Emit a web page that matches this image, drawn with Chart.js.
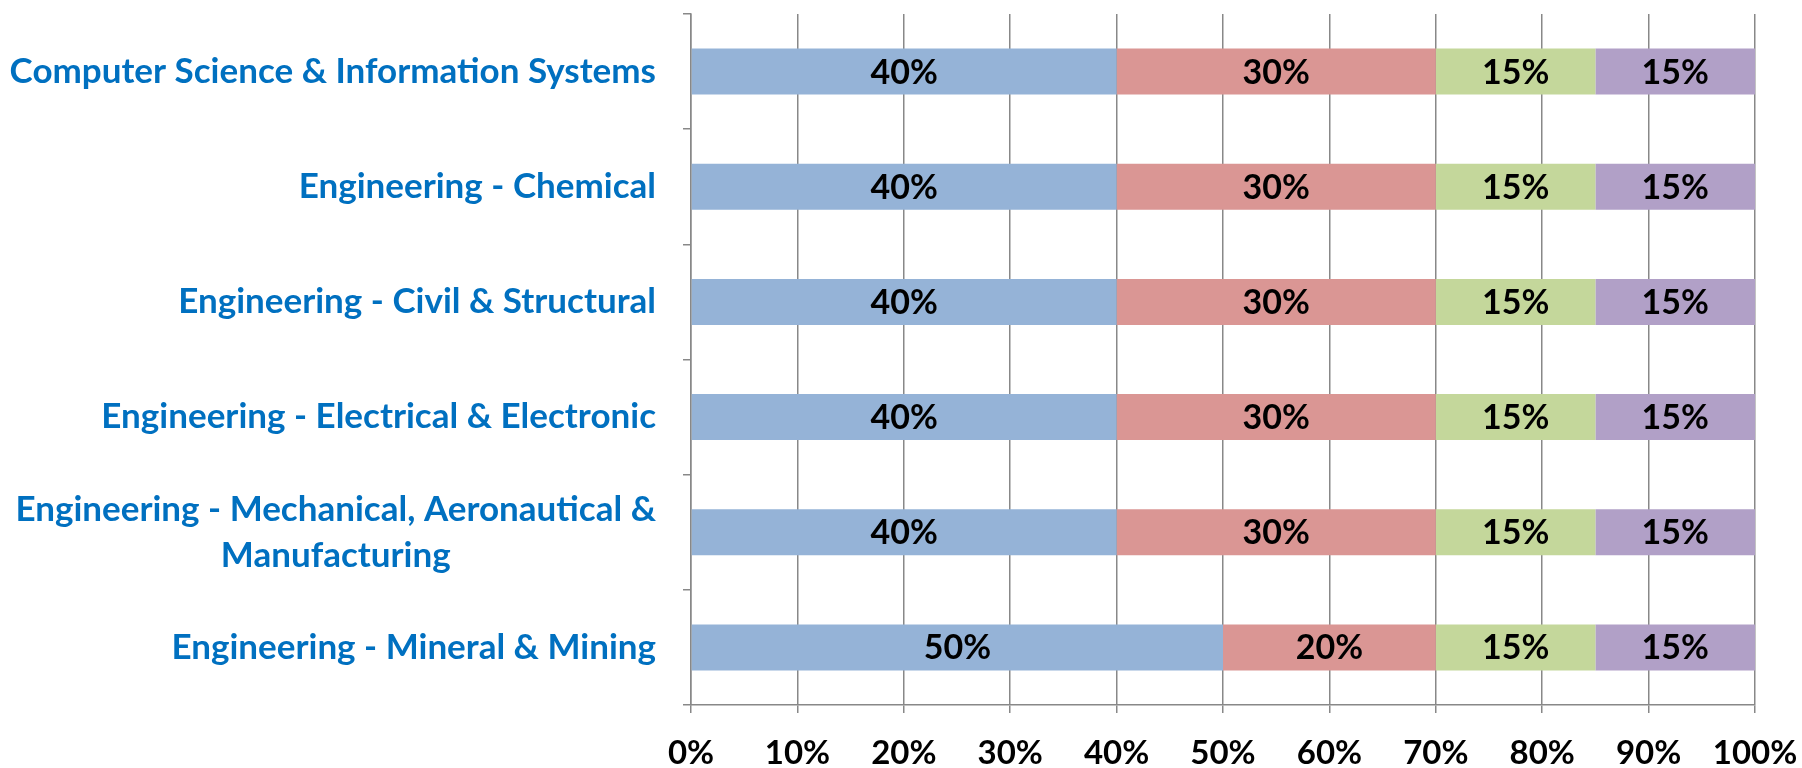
<!DOCTYPE html>
<html>
<head>
<meta charset="utf-8">
<script src="https://cdn.jsdelivr.net/npm/chart.js@4/dist/chart.umd.min.js"></script>
<style>
  html, body { margin: 0; padding: 0; background: #fff; }
  #wrap { width: 1802px; height: 768px; }
</style>
</head>
<body>
<div id="wrap"><canvas id="chart"></canvas></div>
<script>
// categories, top to bottom
const categories = [
    "Computer Science & Information Systems",
    "Engineering - Chemical",
    "Engineering - Civil & Structural",
    "Engineering - Electrical & Electronic",
    ["Engineering - Mechanical, Aeronautical &", "Manufacturing"],
    "Engineering - Mineral & Mining"
];

// share of each component (%)
const seriesA = [40, 40, 40, 40, 40, 50];
const seriesB = [30, 30, 30, 30, 30, 20];
const seriesC = [15, 15, 15, 15, 15, 15];
const seriesD = [15, 15, 15, 15, 15, 15];

const xTicks = [0, 10, 20, 30, 40, 50, 60, 70, 80, 90, 100];

const FONT = "Lato, 'Open Sans', sans-serif";
const gridColor = "#888888";

// value labels in the middle of each segment
const barLabels = {
    id: 'barLabels',
    afterDatasetsDraw(chart) {
        const ctx = chart.ctx;
        ctx.save();
        ctx.font = "bold 34px " + FONT;
        ctx.fillStyle = "#000";
        ctx.textAlign = "center";
        ctx.textBaseline = "middle";
        chart.data.datasets.forEach((ds, i) => {
            chart.getDatasetMeta(i).data.forEach((bar, j) => {
                const p = bar.getCenterPoint();
                ctx.fillText(ds.data[j] + "%", p.x, p.y + 1);
            });
        });
        ctx.restore();
    }
};

// category labels: block right-aligned, lines centred inside the block
const catLabels = {
    id: 'catLabels',
    afterDraw(chart) {
        const ctx = chart.ctx;
        const y = chart.scales.y;
        const right = y.right - 8 - 27;
        const lineH = 46;
        ctx.save();
        ctx.font = "bold 35px " + FONT;
        ctx.fillStyle = "#0070C0";
        ctx.textAlign = "center";
        ctx.textBaseline = "middle";
        categories.forEach((lab, i) => {
            const lines = Array.isArray(lab) ? lab : [lab];
            const w = Math.max(...lines.map(l => ctx.measureText(l).width));
            const cy = y.getPixelForTick(i);
            const y0 = cy - (lines.length - 1) * lineH / 2;
            lines.forEach((l, k) => ctx.fillText(l, right - w / 2, y0 + k * lineH));
        });
        ctx.restore();
    }
};

const colors = ["#95B3D7", "#DA9694", "#C4D79B", "#B1A0C7"];

new Chart(document.getElementById('chart'), {
    type: 'bar',
    data: {
        labels: categories,
        datasets: [
            { label: "A", data: seriesA, backgroundColor: colors[0] },
            { label: "B", data: seriesB, backgroundColor: colors[1] },
            { label: "C", data: seriesC, backgroundColor: colors[2] },
            { label: "D", data: seriesD, backgroundColor: colors[3] }
        ]
    },
    options: {
        indexAxis: 'y',
        responsive: true,
        maintainAspectRatio: false,
        animation: false,
        layout: { padding: { top: 14, right: 47, bottom: 0, left: 0 } },
        datasets: { bar: { categoryPercentage: 1, barPercentage: 0.4, borderWidth: 0 } },
        plugins: { legend: { display: false }, tooltip: { enabled: false } },
        scales: {
            x: {
                stacked: true,
                min: 0,
                max: 100,
                afterBuildTicks: (s) => { s.ticks = xTicks.map(v => ({ value: v })); },
                afterFit: (s) => { s.height = 63; s.paddingLeft = 0; s.paddingRight = 0; },
                ticks: {
                    callback: (v) => v + "%",
                    color: "#000",
                    padding: 21,
                    maxRotation: 0,
                    font: { family: FONT, size: 33, weight: 'bold' }
                },
                grid: { color: gridColor, lineWidth: 1.5, tickLength: 8 },
                border: { color: gridColor, width: 1.5 }
            },
            y: {
                stacked: true,
                afterFit: (s) => { s.width = 691; },
                ticks: { display: false },
                grid: { drawOnChartArea: false, color: gridColor, lineWidth: 1.5, tickLength: 8, offset: true },
                border: { color: gridColor, width: 1.5 }
            }
        }
    },
    plugins: [barLabels, catLabels]
});
</script>
</body>
</html>
